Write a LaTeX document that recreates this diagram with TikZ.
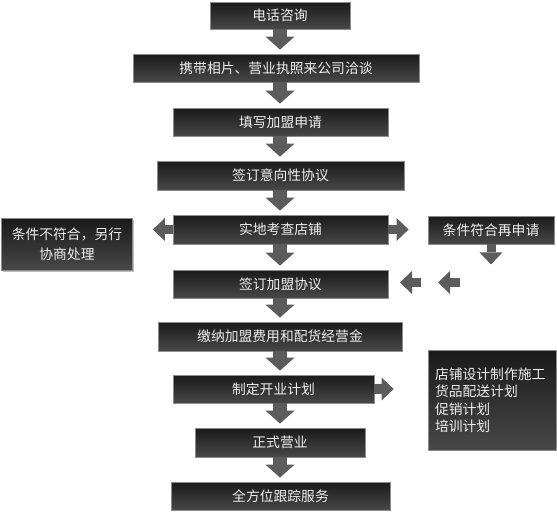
\documentclass[tikz,border=0pt]{standalone}
\usepackage{fontspec}
\setmainfont{Noto Sans CJK SC}
\usetikzlibrary{arrows.meta,shadows,calc}
\definecolor{boxtop}{HTML}{1A1A1A}
\definecolor{boxbot}{HTML}{484848}
\definecolor{boxedge}{HTML}{8C8C8C}
\definecolor{arrowgray}{HTML}{5C5C5C}
\definecolor{txt}{HTML}{EFEFEF}
\tikzset{
  box/.style={rectangle, top color=boxtop, bottom color=boxbot, draw=boxedge,
    line width=0.8pt, text=txt, font=\fontsize{13.8}{20}\selectfont, inner sep=0pt,
    drop shadow={shadow xshift=1pt, shadow yshift=-1pt, opacity=0.25, fill=black}},
  varr/.style={draw=arrowgray, line width=14pt,
    -{Triangle[width=29pt,length=13pt,line width=0pt]}, shorten >=4pt},
  sarr/.style={draw=arrowgray, line width=9pt,
    -{Triangle[width=23pt,length=12pt,line width=0pt]}},
}
\begin{document}
\begin{tikzpicture}[x=1pt,y=-1pt]
\useasboundingbox (0,0) rectangle (557,512);
% main column
\node[box, minimum width=140pt, minimum height=27pt] (b1) at (280,15.5) {电话咨询};
\node[box, minimum width=286pt, minimum height=28pt] (b2) at (276,68) {携带相片、营业执照来公司洽谈};
\node[box, minimum width=215pt, minimum height=28pt] (b3) at (280.5,122) {填写加盟申请};
\node[box, minimum width=247pt, minimum height=29pt] (b4) at (280.5,175.5) {签订意向性协议};
\node[box, minimum width=215pt, minimum height=29pt] (b5) at (280.5,229.5) {实地考查店铺};
\node[box, minimum width=215pt, minimum height=28pt] (b6) at (280.5,284) {签订加盟协议};
\node[box, minimum width=244pt, minimum height=29pt] (b7) at (280,336.5) {缴纳加盟费用和配货经营金};
\node[box, minimum width=201pt, minimum height=28pt] (b8) at (273.5,389) {制定开业计划};
\node[box, minimum width=170pt, minimum height=29pt] (b9) at (280,442.5) {正式营业};
\node[box, minimum width=219pt, minimum height=28pt] (b10) at (280.5,496) {全方位跟踪服务};
% side boxes
\node[box, minimum width=131pt, minimum height=52pt, align=center] (L) at (67,244.5)
  {条件不符合，另行\\协商处理};
\node[box, minimum width=126pt, minimum height=28pt] (R) at (491,230) {条件符合再申请};
\node[box, minimum width=128pt, minimum height=100pt, align=left,
  font=\fontsize{13.8}{17.5}\selectfont] (P) at (492,400)
  {\parbox{114pt}{店铺设计制作施工\\货品配送计划\\促销计划\\培训计划}};
% vertical arrows
\draw[varr] (b1.south -| b1) -- (b2.north -| b1);
\draw[varr] (b2.south -| b1) -- (b3.north -| b1);
\draw[varr] (b3.south -| b1) -- (b4.north -| b1);
\draw[varr] (b4.south -| b1) -- (b5.north -| b1);
\draw[varr] (b5.south -| b1) -- (b6.north -| b1);
\draw[varr] (b6.south -| b1) -- (b7.north -| b1);
\draw[varr] (b7.south -| b1) -- (b8.north -| b1);
\draw[varr] (b8.south -| b1) -- (b9.north -| b1);
\draw[varr] (b9.south -| b1) -- (b10.north -| b1);
% side arrows
\draw[sarr, shorten >=20pt] (b5.west) -- (b5.west -| L.east);
\draw[sarr, shorten >=19pt] (b5.east) -- (b5.east -| R.west);
\coordinate (rdown) at ($(R.south)+(0,20)$);
\draw[sarr] (R.south) -- (rdown);
\coordinate (a1s) at (421,282.5);
\coordinate (a1e) at (400,282.5);
\coordinate (a2s) at (460,282.5);
\coordinate (a2e) at (438,282.5);
\draw[sarr] (a1s) -- (a1e);
\draw[sarr] (a2s) -- (a2e);
\draw[sarr, line width=10pt, shorten >=34pt] (b8.east) -- (b8.east -| P.west);
\end{tikzpicture}
\end{document}
